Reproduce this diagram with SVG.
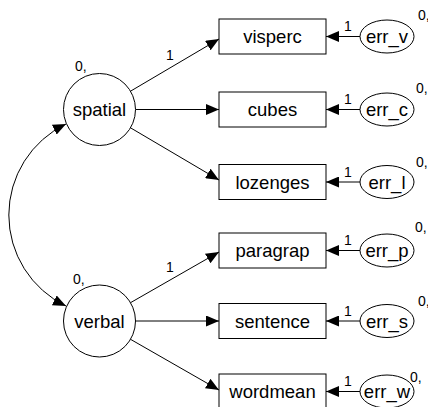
<svg xmlns="http://www.w3.org/2000/svg" width="428" height="407" viewBox="0 0 428 407">
<defs>
<style>
.n{fill:#fff;stroke:#000;stroke-width:1}
.c{fill:none;stroke:#000;stroke-width:1}
.t{font-family:"Liberation Sans",Arial,sans-serif;font-size:18.5px;fill:#000;text-anchor:middle}
.s{font-family:"Liberation Sans",Arial,sans-serif;font-size:14px;fill:#000}
.sm{font-family:"Liberation Sans",Arial,sans-serif;font-size:14px;fill:#000;text-anchor:middle}
</style>
<marker id="ah" viewBox="0 0 13 11" refX="13" refY="5.5" markerWidth="13" markerHeight="11" markerUnits="userSpaceOnUse" orient="auto-start-reverse">
<path d="M0,0 L13,5.5 L0,11 z" fill="#000"/>
</marker>
</defs>
<g id="connectors">
<path class="c" d="M66,124 A101,101 0 0 0 66,306" marker-start="url(#ah)" marker-end="url(#ah)"/>
<line class="c" x1="130.5" y1="91.2" x2="219" y2="39" marker-end="url(#ah)"/>
<line class="c" x1="135.5" y1="109.5" x2="219" y2="109.5" marker-end="url(#ah)"/>
<line class="c" x1="130.5" y1="127.8" x2="219" y2="180" marker-end="url(#ah)"/>
<line class="c" x1="130.5" y1="302.7" x2="219" y2="252" marker-end="url(#ah)"/>
<line class="c" x1="135.5" y1="321" x2="219" y2="321" marker-end="url(#ah)"/>
<line class="c" x1="130.5" y1="339.3" x2="219" y2="390" marker-end="url(#ah)"/>
<line class="c" x1="360" y1="36.5" x2="326" y2="36.5" marker-end="url(#ah)"/>
<line class="c" x1="360" y1="109.5" x2="326" y2="109.5" marker-end="url(#ah)"/>
<line class="c" x1="360" y1="182" x2="326" y2="182" marker-end="url(#ah)"/>
<line class="c" x1="360" y1="250.5" x2="326" y2="250.5" marker-end="url(#ah)"/>
<line class="c" x1="360" y1="321" x2="326" y2="321" marker-end="url(#ah)"/>
<line class="c" x1="360" y1="391.5" x2="326" y2="391.5" marker-end="url(#ah)"/>
<text class="sm" x="170" y="60">1</text>
<text class="sm" x="170" y="272">1</text>
<text class="sm" x="348" y="31">1</text>
<text class="sm" x="348" y="104">1</text>
<text class="sm" x="348" y="177">1</text>
<text class="sm" x="348" y="245">1</text>
<text class="sm" x="348" y="316">1</text>
<text class="sm" x="348" y="386">1</text>
</g>
<g id="spatial">
<circle class="n" cx="99.5" cy="109.5" r="36"/>
<text class="t" x="99.5" y="116">spatial</text>
<text class="s" x="75" y="71">0,</text>
</g>
<g id="verbal">
<circle class="n" cx="99.5" cy="321" r="36"/>
<text class="t" x="99.5" y="328">verbal</text>
<text class="s" x="73" y="284">0,</text>
</g>
<g id="visperc">
<rect class="n" x="219" y="19" width="107" height="35"/>
<text class="t" x="272.5" y="43">visperc</text>
</g>
<g id="cubes">
<rect class="n" x="219" y="92" width="107" height="35"/>
<text class="t" x="272.5" y="116">cubes</text>
</g>
<g id="lozenges">
<rect class="n" x="219" y="164.5" width="107" height="35"/>
<text class="t" x="272.5" y="188.5">lozenges</text>
</g>
<g id="paragrap">
<rect class="n" x="219" y="233" width="107" height="35"/>
<text class="t" x="272.5" y="257">paragrap</text>
</g>
<g id="sentence">
<rect class="n" x="219" y="303.5" width="107" height="35"/>
<text class="t" x="272.5" y="327.5">sentence</text>
</g>
<g id="wordmean">
<rect class="n" x="219" y="374" width="107" height="35"/>
<text class="t" x="272.5" y="398">wordmean</text>
</g>
<g id="err_v">
<ellipse class="n" cx="387" cy="36.5" rx="27" ry="16.5"/>
<text class="t" x="387" y="43">err_v</text>
<text class="s" x="418" y="20">0,</text>
</g>
<g id="err_c">
<ellipse class="n" cx="387" cy="109.5" rx="27" ry="16.5"/>
<text class="t" x="387" y="116">err_c</text>
<text class="s" x="416" y="93">0,</text>
</g>
<g id="err_l">
<ellipse class="n" cx="387" cy="182" rx="27" ry="16.5"/>
<text class="t" x="387" y="188.5">err_l</text>
<text class="s" x="416" y="167">0,</text>
</g>
<g id="err_p">
<ellipse class="n" cx="387" cy="250.5" rx="27" ry="16.5"/>
<text class="t" x="387" y="257">err_p</text>
<text class="s" x="415" y="232">0,</text>
</g>
<g id="err_s">
<ellipse class="n" cx="387" cy="321" rx="27" ry="16.5"/>
<text class="t" x="387" y="327.5">err_s</text>
<text class="s" x="418" y="306">0,</text>
</g>
<g id="err_w">
<ellipse class="n" cx="387" cy="391.5" rx="27" ry="16.5"/>
<text class="t" x="387" y="398">err_w</text>
<text class="s" x="410" y="382">0,</text>
</g>
</svg>
